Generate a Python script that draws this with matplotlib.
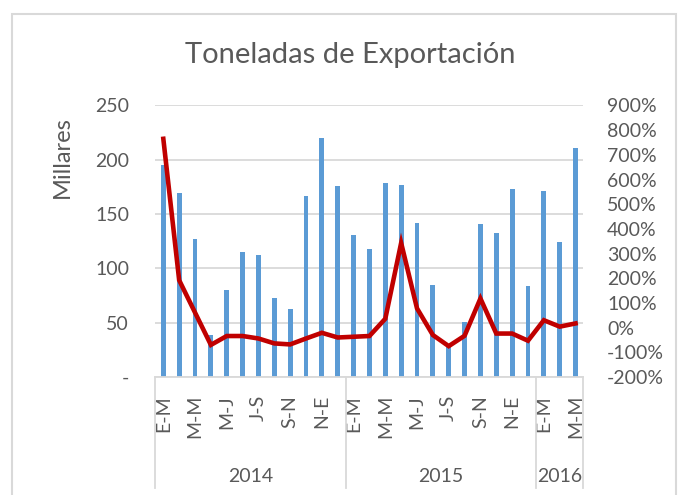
import matplotlib
matplotlib.use("Agg")
import matplotlib.pyplot as plt
from matplotlib.ticker import FuncFormatter
from matplotlib.patches import Rectangle
import numpy as np

plt.rcParams['font.family'] = ['Lato', 'DejaVu Sans']

# trimestres moviles (etiquetas mostradas cada dos)
periodos = ['E-M', 'F-A', 'M-M', 'A-J', 'M-J', 'J-A', 'J-S', 'A-O', 'S-N', 'O-D', 'N-E', 'D-F',
            'E-M', 'F-A', 'M-M', 'A-J', 'M-J', 'J-A', 'J-S', 'A-O', 'S-N', 'O-D', 'N-E', 'D-F',
            'E-M', 'F-A', 'M-M']
anios = ['2014', '2015', '2016']
n_por_anio = [12, 12, 3]

# toneladas (miles)
toneladas = [195, 169, 127, 39, 80, 115, 112, 73, 63, 167, 220, 176,
             131, 118, 179, 177, 142, 85, 30, 51, 141, 133, 173, 84,
             171, 124, 211]
# variacion (fraccion)
variacion = [7.65, 1.92, 0.61, -0.70, -0.34, -0.34, -0.44, -0.64, -0.68, -0.44, -0.21, -0.40,
             -0.37, -0.34, 0.36, 3.43, 0.78, -0.30, -0.75, -0.33, 1.18, -0.24, -0.24, -0.53,
             0.30, 0.04, 0.17]

gris = '#595959'
grid_c = '#D9D9D9'

fig = plt.figure(figsize=(6.78, 4.95), dpi=100)
ax = fig.add_axes([0.2292, 0.2384, 0.6314, 0.5485])
x = np.arange(len(toneladas))

ax.set_axisbelow(True)
ax.yaxis.grid(True, color=grid_c, linewidth=1.3)
ax.bar(x, toneladas, width=0.31, color='#5B9BD5', zorder=2)
ax.set_ylim(0, 250)
ax.set_xlim(-0.5, len(x) - 0.5)
ax.set_yticks([0, 50, 100, 150, 200, 250])
ax.set_yticklabels(['-', '50', '100', '150', '200', '250'])
ax.tick_params(axis='y', length=0, pad=19, labelsize=14, labelcolor=gris)
for s in ['top', 'right', 'left']:
    ax.spines[s].set_visible(False)
ax.spines['bottom'].set_color(grid_c)
ax.spines['bottom'].set_linewidth(1.3)

ax.set_xticks(x[::2])
ax.set_xticklabels(periodos[::2], rotation=90, va='top', ha='center')
ax.tick_params(axis='x', length=0, pad=13, labelsize=14, labelcolor=gris)

ax2 = ax.twinx()
ax2.plot(x, variacion, color='#C00000', linewidth=3.3, solid_joinstyle='miter', zorder=3)
ax2.set_ylim(-2, 9)
ax2.set_yticks(np.arange(-2, 10, 1))
ax2.yaxis.set_major_formatter(FuncFormatter(lambda v, p: '{:.0f}%'.format(v * 100)))
ax2.tick_params(axis='y', length=0, pad=17, labelsize=14, labelcolor=gris)
for s in ax2.spines.values():
    s.set_visible(False)

# eje de categorias por anio
inicio = -0.5
for nombre, n in zip(anios, n_por_anio):
    ax.plot([inicio, inicio], [0, -0.41], transform=ax.get_xaxis_transform(),
            color=grid_c, linewidth=1.3, clip_on=False)
    ax.text(inicio + n / 2, -0.365, nombre, transform=ax.get_xaxis_transform(),
            ha='center', va='center', fontsize=14, color=gris)
    inicio += n
ax.plot([inicio, inicio], [0, -0.41], transform=ax.get_xaxis_transform(),
        color=grid_c, linewidth=1.3, clip_on=False)

fig.text(0.517, 0.888, 'Toneladas de Exportación', ha='center', va='center',
         fontsize=21, color=gris)
fig.text(0.092, 0.683, 'Millares', rotation=90, ha='center', va='center',
         fontsize=17, color=gris)

fig.patches.append(Rectangle((0.0177, -0.1), 0.98, 1.0717, transform=fig.transFigure,
                             fill=False, edgecolor=grid_c, linewidth=1.5))

fig.savefig('out.png', dpi=100)
